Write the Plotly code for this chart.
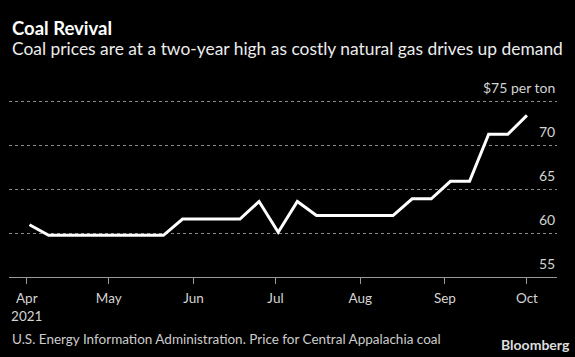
import plotly.graph_objects as go

dates = ["2021-04-02", "2021-04-09", "2021-04-16", "2021-04-23", "2021-04-30",
         "2021-05-07", "2021-05-14", "2021-05-21", "2021-05-28", "2021-06-04",
         "2021-06-11", "2021-06-18", "2021-06-25", "2021-07-02", "2021-07-09",
         "2021-07-16", "2021-07-23", "2021-07-30", "2021-08-06", "2021-08-13",
         "2021-08-20", "2021-08-27", "2021-09-03", "2021-09-10", "2021-09-17",
         "2021-09-24", "2021-10-01"]
prices = [60.95, 59.75, 59.75, 59.75, 59.75, 59.75, 59.75, 59.75, 61.6, 61.6,
          61.6, 61.6, 63.6, 60.1, 63.6, 62.0, 62.0, 62.0, 62.0, 62.0,
          63.9, 63.9, 65.9, 65.9, 71.25, 71.25, 73.4]

x_tickvals = ["2021-04-01", "2021-05-01", "2021-06-01", "2021-07-01",
              "2021-08-01", "2021-09-01", "2021-10-01"]
x_ticktext = ["Apr<br>2021", "May", "Jun", "Jul", "Aug", "Sep", "Oct"]
y_tickvals = [55, 60, 65, 70, 75]
y_ticktext = ["55", "60", "65", "70", "$75 per ton"]

FONT = "Lato"

fig = go.Figure()
fig.add_trace(go.Scatter(x=dates, y=prices, mode="lines",
                         line=dict(color="white", width=3),
                         hoverinfo="skip", showlegend=False))

W, H = 575, 357
L, R, B = 9, 18, 80.3
YMIN, YMAX = 55, 78
PX_PER_UNIT = 8.8
T = 101.7 - (YMAX - 75) * PX_PER_UNIT
pw, ph = W - L - R, H - T - B

def px_x(x):
    return (x - L) / pw

def px_y(y):
    return (H - B - y) / ph

annotations = [
    dict(text="<b>Coal Revival</b>", xref="paper", yref="paper",
         x=px_x(10), y=px_y(28.5), xanchor="left", yanchor="middle",
         showarrow=False, font=dict(size=18.5, color="white", family=FONT)),
    dict(text="Coal prices are at a two-year high as costly natural gas drives up demand",
         xref="paper", yref="paper",
         x=px_x(10), y=px_y(48.5), xanchor="left", yanchor="middle",
         showarrow=False, font=dict(size=17.4, color="#ececec", family=FONT)),
    dict(text="U.S. Energy Information Administration. Price for Central Appalachia coal",
         xref="paper", yref="paper",
         x=px_x(10), y=px_y(338.5), xanchor="left", yanchor="middle",
         showarrow=False, font=dict(size=13.5, color="#cccccc", family=FONT)),
    dict(text="<b>Bloomberg</b>", xref="paper", yref="paper",
         x=px_x(572), y=px_y(344), xanchor="right", yanchor="middle",
         showarrow=False, font=dict(size=14, color="#dddddd", family=FONT)),
]
for v, t in zip(y_tickvals, y_ticktext):
    annotations.append(dict(text=t, xref="paper", yref="y", x=1.0, y=v,
                            xanchor="right", yanchor="middle", yshift=13.5,
                            showarrow=False,
                            font=dict(size=14, color="#d4d4d4", family=FONT)))

fig.update_layout(
    width=W, height=H,
    margin=dict(l=L, r=R, t=T, b=B, pad=0),
    paper_bgcolor="black", plot_bgcolor="black",
    font=dict(family=FONT, color="#d0d0d0", size=14),
    xaxis=dict(type="date", range=["2021-03-25 12:00", "2021-10-12"],
               tickvals=x_tickvals, ticktext=x_ticktext,
               showgrid=False, zeroline=False,
               showline=True, linecolor="#9a9a9a", linewidth=1,
               ticks="outside", ticklen=6, tickcolor="#9a9a9a", tickwidth=1,
               ticklabelstandoff=3,
               tickfont=dict(size=13.5, color="#d4d4d4")),
    yaxis=dict(range=[YMIN, YMAX], side="right",
               tickvals=y_tickvals, showticklabels=False,
               showgrid=True, gridcolor="#8a8a8a", griddash="dot", gridwidth=1,
               zeroline=False, showline=False, ticks=""),
    annotations=annotations,
)

fig.write_html("out.html", config={"displayModeBar": False},
               post_script="document.body.style.margin='0';document.body.style.overflow='hidden';")
